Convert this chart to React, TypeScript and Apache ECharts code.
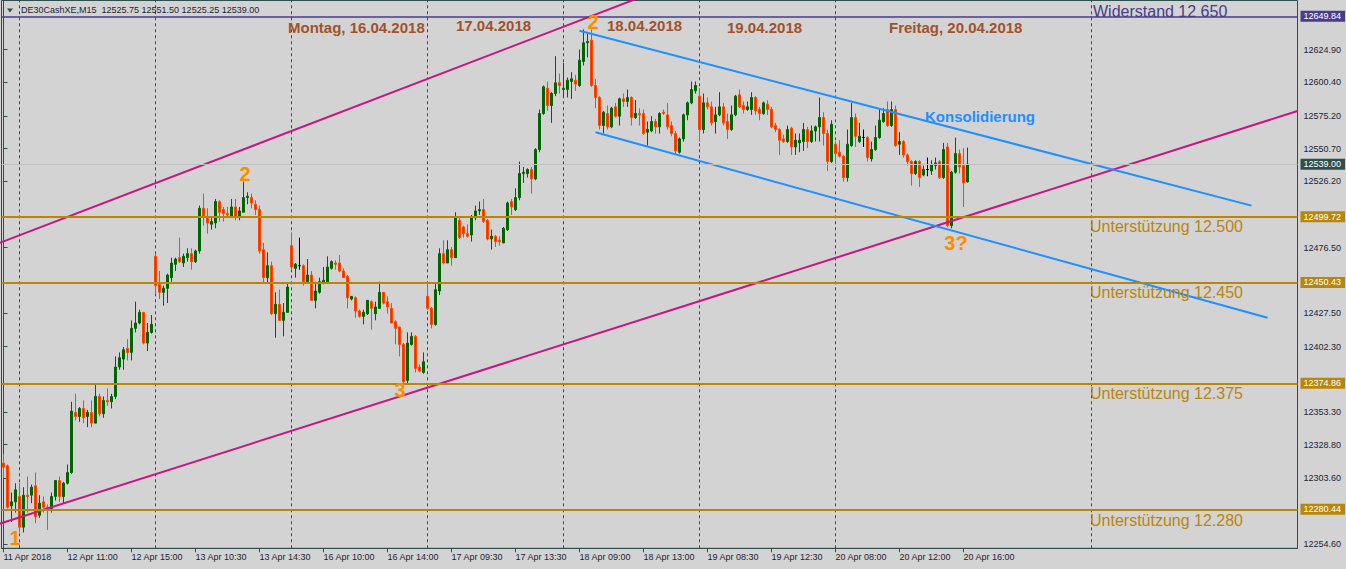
import React, { useEffect, useRef } from "react";
import * as echarts from "echarts";

// ---------- DATA (M15 candles, DE30CashXE) ----------
const opens = [
  12315, 12313, 12283, 12286, 12290, 12267, 12291, 12291, 12298, 12276,
  12286, 12282, 12281, 12290, 12302, 12290, 12300, 12308, 12353, 12350,
  12356, 12350, 12353, 12345, 12365, 12352, 12362, 12361, 12365, 12387,
  12393, 12401, 12398, 12416, 12420, 12428, 12405, 12413, 12470, 12449,
  12443, 12446, 12454, 12464, 12469, 12465, 12469, 12472, 12466, 12474,
  12506, 12500, 12494, 12495, 12511, 12505, 12502, 12500, 12507, 12499,
  12503, 12514, 12514, 12509, 12505, 12475, 12454, 12463, 12427, 12434,
  12422, 12428, 12478, 12461, 12463, 12463, 12451, 12456, 12437, 12443,
  12450, 12451, 12461, 12465, 12465, 12459, 12455, 12438, 12439, 12429,
  12425, 12427, 12436, 12427, 12431, 12443, 12436, 12431, 12421, 12417,
  12404, 12377, 12404, 12410, 12387, 12383, 12440, 12431, 12419, 12444,
  12472, 12465, 12475, 12469, 12497, 12492, 12487, 12486, 12499, 12504,
  12505, 12497, 12483, 12485, 12482, 12480, 12490, 12511, 12505, 12514,
  12532, 12532, 12535, 12528, 12550, 12577, 12596, 12583, 12592, 12600,
  12595, 12595, 12601, 12602, 12598, 12616, 12630, 12632, 12598, 12589,
  12568, 12577, 12567, 12582, 12575, 12588, 12586, 12589, 12574, 12577,
  12577, 12563, 12564, 12571, 12567, 12578, 12576, 12568, 12562, 12548,
  12558, 12576, 12585, 12594, 12590, 12565, 12585, 12582, 12571, 12576,
  12582, 12571, 12565, 12576, 12591, 12583, 12580, 12580, 12589, 12580,
  12577, 12584, 12580, 12568, 12565, 12558, 12556, 12566, 12552, 12555,
  12556, 12565, 12556, 12564, 12567, 12574, 12562, 12541, 12554, 12548,
  12545, 12529, 12553, 12574, 12556, 12559, 12559, 12543, 12550, 12559,
  12571, 12580, 12568, 12580, 12554, 12556, 12546, 12541, 12532, 12541,
  12531, 12535, 12534, 12538, 12541, 12529, 12552, 12493, 12533, 12547,
  12538, 12525.75,
];
const highs = [
  12322, 12314, 12293, 12300, 12300, 12297, 12305, 12299, 12308, 12291,
  12290, 12284, 12293, 12302, 12305, 12301, 12314, 12361, 12367, 12357,
  12362, 12355, 12362, 12374, 12367, 12365, 12371, 12367, 12395, 12398,
  12402, 12408, 12422, 12436, 12430, 12428, 12420, 12426, 12472, 12459,
  12448, 12457, 12469, 12469, 12484, 12472, 12476, 12476, 12475, 12508,
  12517, 12506, 12499, 12513, 12512, 12507, 12507, 12513, 12513, 12507,
  12526, 12518, 12517, 12512, 12508, 12480, 12473, 12466, 12443, 12445,
  12435, 12450, 12488, 12465, 12484, 12464, 12468, 12459, 12451, 12454,
  12462, 12470, 12467, 12467, 12471, 12461, 12456, 12440, 12440, 12430,
  12430, 12437, 12437, 12436, 12451, 12443, 12440, 12435, 12422, 12417,
  12405, 12413, 12413, 12411, 12389, 12398, 12450, 12432, 12450, 12476,
  12482, 12482, 12477, 12503, 12499, 12493, 12494, 12501, 12508, 12511,
  12513, 12498, 12490, 12486, 12485, 12492, 12511, 12513, 12521, 12541,
  12537, 12536, 12537, 12551, 12580, 12598, 12601, 12593, 12620, 12607,
  12615, 12604, 12608, 12606, 12625, 12640, 12637, 12640, 12603, 12590,
  12579, 12583, 12582, 12585, 12589, 12592, 12595, 12590, 12587, 12581,
  12580, 12571, 12575, 12573, 12578, 12580, 12585, 12571, 12564, 12559,
  12577, 12586, 12601, 12601, 12596, 12592, 12589, 12586, 12582, 12593,
  12585, 12577, 12583, 12591, 12595, 12586, 12586, 12593, 12590, 12582,
  12586, 12587, 12582, 12570, 12566, 12561, 12568, 12567, 12562, 12562,
  12570, 12567, 12568, 12568, 12589, 12578, 12565, 12572, 12556, 12557,
  12546, 12565, 12585, 12577, 12570, 12565, 12560, 12556, 12568, 12581,
  12581, 12586, 12586, 12583, 12563, 12557, 12547, 12542, 12542, 12542,
  12538, 12544, 12542, 12544, 12542, 12555, 12555, 12534, 12559, 12550,
  12551, 12551.5,
];
const lows = [
  12304, 12281, 12271, 12278, 12263, 12263, 12278, 12285, 12270, 12274,
  12278, 12265, 12278, 12287, 12286, 12285, 12299, 12307, 12347, 12346,
  12345, 12342, 12342, 12345, 12350, 12349, 12358, 12356, 12363, 12385,
  12385, 12392, 12392, 12413, 12419, 12404, 12399, 12412, 12442, 12438,
  12433, 12435, 12451, 12459, 12465, 12462, 12466, 12460, 12465, 12472,
  12493, 12487, 12490, 12491, 12496, 12496, 12499, 12499, 12497, 12497,
  12503, 12509, 12506, 12501, 12472, 12450, 12450, 12426, 12409, 12422,
  12410, 12428, 12460, 12454, 12460, 12448, 12450, 12437, 12431, 12442,
  12449, 12450, 12460, 12460, 12458, 12454, 12431, 12437, 12424, 12424,
  12419, 12426, 12415, 12422, 12431, 12434, 12427, 12420, 12404, 12395,
  12375, 12375, 12403, 12383, 12383, 12382, 12430, 12416, 12418, 12441,
  12464, 12465, 12463, 12469, 12483, 12484, 12484, 12481, 12497, 12501,
  12495, 12482, 12475, 12477, 12478, 12480, 12489, 12501, 12504, 12512,
  12525, 12529, 12517, 12527, 12548, 12576, 12579, 12570, 12590, 12592,
  12589, 12589, 12588, 12594, 12597, 12613, 12619, 12597, 12581, 12565,
  12562, 12565, 12566, 12574, 12568, 12582, 12582, 12568, 12573, 12568,
  12561, 12553, 12563, 12562, 12562, 12576, 12565, 12560, 12546, 12547,
  12556, 12572, 12584, 12592, 12556, 12562, 12580, 12568, 12562, 12575,
  12568, 12558, 12564, 12575, 12581, 12577, 12579, 12576, 12576, 12572,
  12576, 12576, 12566, 12563, 12546, 12555, 12555, 12546, 12546, 12548,
  12549, 12551, 12555, 12556, 12556, 12553, 12534, 12540, 12538, 12544,
  12526, 12526, 12552, 12552, 12555, 12552, 12541, 12541, 12549, 12558,
  12570, 12567, 12567, 12552, 12546, 12544, 12538, 12523, 12531, 12522,
  12530, 12530, 12531, 12535, 12528, 12528, 12492, 12491, 12532, 12532,
  12507, 12525.25,
];
const closes = [
  12312, 12282, 12286, 12295, 12267, 12291, 12290, 12297, 12275, 12285,
  12282, 12281, 12290, 12302, 12290, 12300, 12308, 12354, 12350, 12356,
  12349, 12353, 12345, 12365, 12352, 12362, 12361, 12365, 12387, 12394,
  12400, 12398, 12416, 12420, 12428, 12405, 12413, 12419, 12448, 12443,
  12446, 12456, 12465, 12468, 12466, 12470, 12472, 12466, 12474, 12506,
  12499, 12495, 12496, 12511, 12503, 12502, 12501, 12507, 12499, 12504,
  12514, 12515, 12510, 12505, 12474, 12454, 12463, 12427, 12434, 12422,
  12428, 12447, 12462, 12464, 12463, 12451, 12456, 12437, 12444, 12451,
  12452, 12462, 12466, 12464, 12459, 12454, 12439, 12440, 12429, 12425,
  12428, 12437, 12431, 12432, 12443, 12435, 12432, 12420, 12416, 12404,
  12376, 12405, 12410, 12386, 12384, 12391, 12431, 12419, 12445, 12472,
  12465, 12475, 12469, 12499, 12484, 12487, 12485, 12499, 12504, 12505,
  12496, 12483, 12485, 12481, 12481, 12491, 12510, 12507, 12514, 12532,
  12533, 12535, 12528, 12550, 12577, 12597, 12583, 12592, 12600, 12598,
  12596, 12602, 12603, 12599, 12617, 12630, 12631, 12598, 12589, 12568,
  12578, 12567, 12581, 12575, 12588, 12586, 12589, 12574, 12577, 12576,
  12562, 12565, 12571, 12567, 12577, 12577, 12567, 12562, 12549, 12558,
  12576, 12585, 12595, 12598, 12565, 12585, 12582, 12570, 12576, 12582,
  12570, 12565, 12576, 12590, 12582, 12580, 12582, 12589, 12579, 12577,
  12585, 12580, 12567, 12565, 12557, 12556, 12565, 12552, 12557, 12557,
  12565, 12556, 12564, 12567, 12574, 12562, 12541, 12569, 12547, 12545,
  12529, 12554, 12574, 12560, 12560, 12559, 12544, 12550, 12559, 12572,
  12577, 12568, 12580, 12553, 12556, 12546, 12541, 12532, 12541, 12529,
  12535, 12535, 12539, 12540, 12529, 12550, 12493, 12533, 12547, 12537,
  12525, 12539,
];

const symbolName = "DE30CashXE";
const timeframe = "M15";

// time-axis tick labels, one every 16 bars (4 hours of M15)
const timeLabels = [
  "11 Apr 2018", "12 Apr 11:00", "12 Apr 15:00", "13 Apr 10:30",
  "13 Apr 14:30", "16 Apr 10:00", "16 Apr 14:00", "17 Apr 09:30",
  "17 Apr 13:30", "18 Apr 09:00", "18 Apr 13:00", "19 Apr 08:30",
  "19 Apr 12:30", "20 Apr 08:00", "20 Apr 12:00", "20 Apr 16:00",
];
const LABEL_STEP = 16;
const SLOT_COUNT = 324; // bar slots visible incl. empty right margin

// price-axis tick labels
const priceTicks = [
  12624.9, 12600.4, 12575.2, 12550.7, 12526.2, 12476.5,
  12427.5, 12402.3, 12353.3, 12328.8, 12303.6, 12254.6,
];
const Y_MIN = 12251.2;
const Y_MAX = 12661.7;

// horizontal levels
const resistanceLevel = 12649.84;
const supportLevels = [12499.72, 12450.43, 12374.86, 12280.44];
const bidPrice = 12539.0;

// day separators (bar index)
const daySeparators = [4, 38, 72, 106, 140, 174, 208, 272];

// trend lines [barIndex, price]
const upperPinkLine = [[-1, 12480], [160, 12665]];
const lowerPinkLine = [[-1, 12269.6], [323.5, 12578.9]];
const upperBlueLine = [[144, 12639], [312, 12508]];
const lowerBlueLine = [[148, 12563], [316, 12424]];

// annotations
const dateTitles = [
  "Montag, 16.04.2018", "17.04.2018", "18.04.2018", "19.04.2018", "Freitag, 20.04.2018",
];
const supportTexts = [
  "Unterstützung 12.500", "Unterstützung 12.450", "Unterstützung 12.375", "Unterstützung 12.280",
];
const resistanceText = "Widerstand 12 650";
const consolidationText = "Konsolidierung";
const waveLabels = ["1", "2", "3", "2", "3?"];

// ---------- STYLE ----------
const FONT = '"Liberation Sans", Arial, sans-serif';
const BG = "#d3d3d3";
const AXIS_COLOR = "#2f4f4f";
const TEXT_COLOR = "#1b2633";
const GOLD = "#b8860b";
const SLATE = "#483d8b";
const PINK = "#c71585";
const BLUE = "#1e90ff";
const SIENNA = "#a0522d";
const ORANGE = "#ff8c00";

const categories = Array.from({ length: SLOT_COUNT }, (_, i) => String(i));
const candleData = opens.map((o, i) => [o, closes[i], lows[i], highs[i]]);
const isLabelSlot = (i: number) => i % LABEL_STEP === 0 && i / LABEL_STEP < timeLabels.length;
const fmt = (v: number) => v.toFixed(2);

function boxLabel(value: number, bg: string) {
  return {
    show: true,
    position: "end",
    distance: 3,
    formatter: fmt(value),
    backgroundColor: bg,
    color: "#ffffff",
    padding: [1, 4, 0, 3],
    fontSize: 9,
    lineHeight: 10,
    fontFamily: FONT,
  };
}

function buildOption() {
  const last = opens.length - 1;
  const header = `${symbolName},${timeframe}  ${fmt(opens[last])} ${fmt(highs[last])} ${fmt(lows[last])} ${fmt(closes[last])}`;

  const levelLines: any[] = [
    {
      yAxis: resistanceLevel,
      lineStyle: { color: SLATE, width: 1.5, type: "solid" },
      label: boxLabel(resistanceLevel, SLATE),
    },
    {
      yAxis: bidPrice,
      lineStyle: { color: "#c0c0c0", width: 1, type: "solid" },
      label: boxLabel(bidPrice, AXIS_COLOR),
    },
    ...supportLevels.map((v) => ({
      yAxis: v,
      lineStyle: { color: GOLD, width: 2, type: "solid" },
      label: boxLabel(v, GOLD),
    })),
  ];

  const trend = (data: number[][], color: string, extra: any = {}) => ({
    type: "line",
    xAxisIndex: 1,
    yAxisIndex: 0,
    data,
    symbol: "none",
    silent: true,
    clip: true,
    z: 3,
    lineStyle: { color, width: 2 },
    ...extra,
  });

  const txt = (text: string, x: number, y: number, fill: string, font: string, align = "left") => ({
    type: "text",
    x,
    y,
    silent: true,
    z: 100,
    style: { text, fill, font, align, verticalAlign: "middle" },
  });

  const dateFont = `bold 15px ${FONT}`;
  const noteFont = `16px ${FONT}`;
  const waveFont = `bold 20px ${FONT}`;

  return {
    animation: false,
    backgroundColor: BG,
    grid: {
      left: 1.5,
      right: 48.5,
      top: 0.5,
      bottom: 20.7,
      show: true,
      borderColor: AXIS_COLOR,
      borderWidth: 1,
      backgroundColor: "transparent",
      containLabel: false,
      outerBoundsMode: "none",
    },
    xAxis: [
      {
        type: "category",
        data: categories,
        boundaryGap: true,
        axisLine: { show: true, lineStyle: { color: AXIS_COLOR, width: 1 } },
        axisTick: {
          show: true,
          alignWithLabel: true,
          interval: (i: number) => isLabelSlot(i),
          length: 4,
          lineStyle: { color: AXIS_COLOR },
        },
        axisLabel: {
          show: true,
          interval: (i: number) => isLabelSlot(i),
          formatter: (_v: string, i: number) => timeLabels[i / LABEL_STEP] ?? "",
          align: "left",
          margin: 4,
          color: TEXT_COLOR,
          fontSize: 9,
          fontFamily: FONT,
          hideOverlap: false,
        },
        splitLine: { show: false },
      },
      {
        type: "value",
        min: -0.5,
        max: SLOT_COUNT - 0.5,
        show: false,
        splitLine: { show: false },
      },
    ],
    yAxis: {
      type: "value",
      position: "right",
      min: Y_MIN,
      max: Y_MAX,
      axisLine: { show: true, lineStyle: { color: AXIS_COLOR, width: 1 } },
      axisTick: {
        show: true,
        length: 4,
        customValues: priceTicks,
        lineStyle: { color: AXIS_COLOR },
      },
      axisLabel: {
        show: true,
        customValues: priceTicks,
        formatter: (v: number) => fmt(v),
        margin: 6,
        color: TEXT_COLOR,
        fontSize: 9,
        fontFamily: FONT,
        hideOverlap: false,
      },
      splitLine: { show: false },
    },
    series: [
      trend(upperPinkLine, PINK, {
        markLine: {
          silent: true,
          z: 1,
          symbol: ["none", "none"],
          label: { show: false },
          lineStyle: { color: AXIS_COLOR, type: [3, 3], width: 1 },
          emphasis: { disabled: true },
          data: daySeparators.map((x) => ({ xAxis: x })),
        },
      }),
      {
        type: "candlestick",
        xAxisIndex: 0,
        yAxisIndex: 0,
        data: candleData,
        barWidth: 3,
        silent: true,
        z: 2,
        itemStyle: {
          color: "#006400",
          color0: "#ff2200",
          borderColor: "#006400",
          borderColor0: "#ff4500",
          borderColorDoji: "#000000",
          borderWidth: 1,
        },
        markLine: {
          silent: true,
          z: 4,
          symbol: ["none", "none"],
          emphasis: { disabled: true },
          data: levelLines,
        },
      },
      trend(lowerPinkLine, PINK),
      trend(upperBlueLine, BLUE),
      trend(lowerBlueLine, BLUE),
    ],
    graphic: [
      {
        type: "polygon",
        silent: true,
        z: 100,
        shape: { points: [[7, 8.5], [13, 8.5], [10, 12.5]] },
        style: { fill: AXIS_COLOR },
      },
      txt(header, 21, 10, TEXT_COLOR, `9px ${FONT}`),
      txt(dateTitles[0], 288, 27, SIENNA, dateFont),
      txt(dateTitles[1], 456, 25, SIENNA, dateFont),
      txt(dateTitles[2], 607, 25, SIENNA, dateFont),
      txt(dateTitles[3], 727, 27, SIENNA, dateFont),
      txt(dateTitles[4], 889, 27, SIENNA, dateFont),
      txt(resistanceText, 1093, 11, SLATE, noteFont),
      txt(supportTexts[0], 1090, 226, GOLD, noteFont),
      txt(supportTexts[1], 1090, 292, GOLD, noteFont),
      txt(supportTexts[2], 1090, 393, GOLD, noteFont),
      txt(supportTexts[3], 1090, 520, GOLD, noteFont),
      txt(consolidationText, 925, 116, BLUE, dateFont),
      txt(waveLabels[0], 15, 538, ORANGE, waveFont, "center"),
      txt(waveLabels[1], 245, 174, ORANGE, waveFont, "center"),
      txt(waveLabels[2], 400, 390, ORANGE, waveFont, "center"),
      txt(waveLabels[3], 593, 22, ORANGE, waveFont, "center"),
      txt(waveLabels[4], 956, 243, ORANGE, waveFont, "center"),
    ],
  };
}

export default function App() {
  const ref = useRef<HTMLDivElement>(null);
  useEffect(() => {
    if (!ref.current) return;
    const chart = echarts.init(ref.current, null, { renderer: "svg" });
    chart.setOption(buildOption() as any);
    return () => chart.dispose();
  }, []);
  return (
    <div style={{ position: "fixed", left: 0, top: 0, width: 1346, height: 569, background: BG }}>
      <div ref={ref} style={{ width: 1346, height: 569 }} />
    </div>
  );
}
